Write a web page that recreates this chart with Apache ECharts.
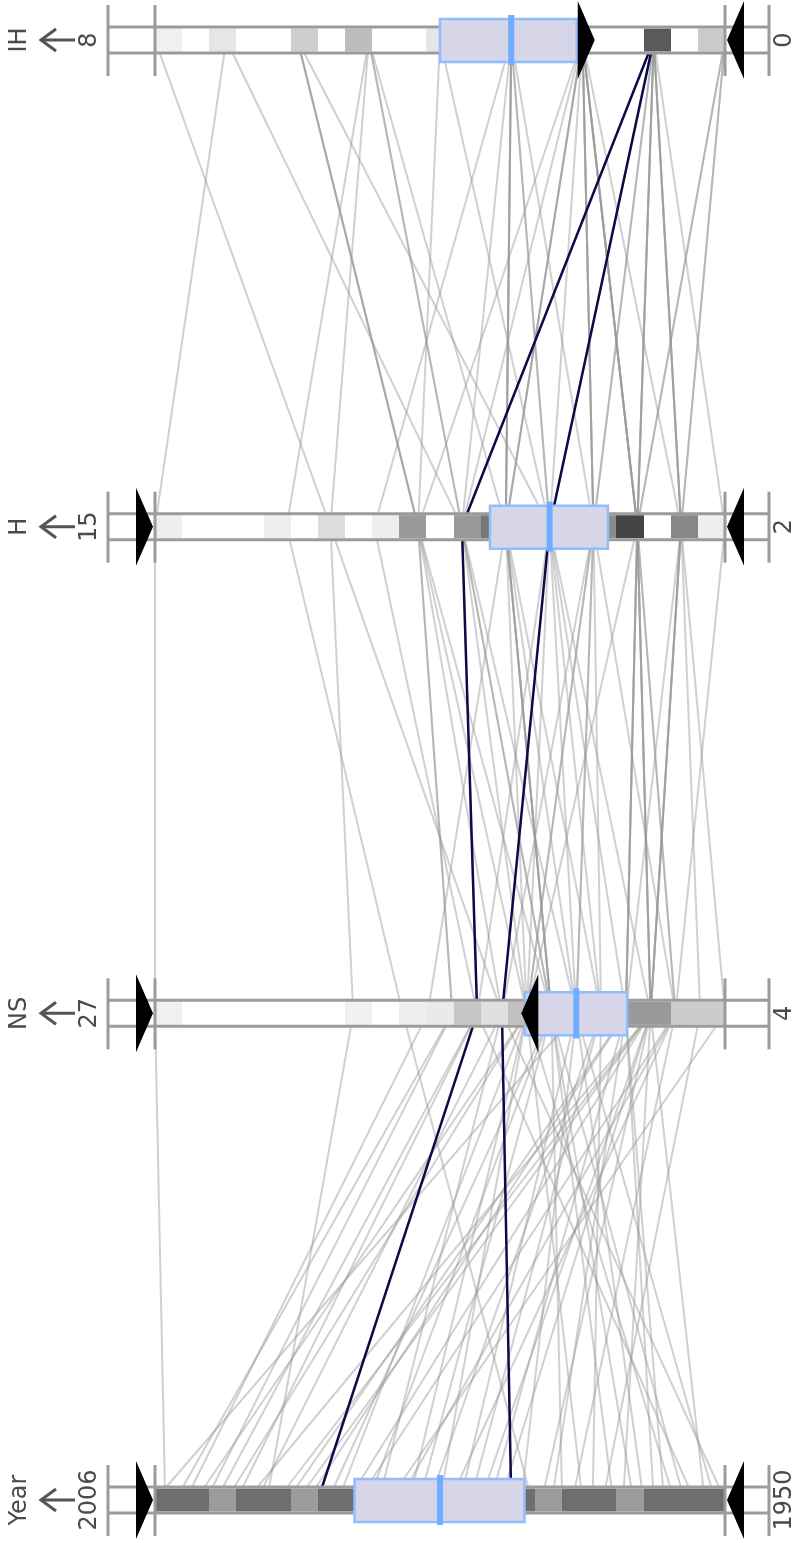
<!DOCTYPE html>
<html>
<head>
<meta charset="utf-8">
<title>Atlantic hurricane seasons 1950–2006</title>
<script src="https://cdn.jsdelivr.net/npm/echarts@6/dist/echarts.min.js"></script>
<style>
  html, body { margin: 0; padding: 0; background: #ffffff; }
  #chart { width: 796px; height: 1543px; }
</style>
</head>
<body>
<div id="chart"></div>
<script>
// ---- Season records: intense hurricanes, hurricanes, named storms per year ----
const years = [1950, 1951, 1952, 1953, 1954, 1955, 1956, 1957, 1958, 1959,
               1960, 1961, 1962, 1963, 1964, 1965, 1966, 1967, 1968, 1969,
               1970, 1971, 1972, 1973, 1974, 1975, 1976, 1977, 1978, 1979,
               1980, 1981, 1982, 1983, 1984, 1985, 1986, 1987, 1988, 1989,
               1990, 1991, 1992, 1993, 1994, 1995, 1996, 1997, 1998, 1999,
               2000, 2001, 2002, 2003, 2004, 2005, 2006];
const namedStorms = [13, 10, 7, 14, 11, 12, 8, 8, 10, 11,
                     7, 11, 5, 9, 12, 6, 11, 8, 7, 17,
                     10, 13, 7, 8, 7, 9, 10, 6, 12, 9,
                     11, 12, 6, 4, 13, 11, 6, 7, 12, 11,
                     14, 8, 7, 8, 7, 19, 13, 7, 14, 12,
                     14, 15, 12, 16, 15, 27, 10];
const hurricanes = [11, 8, 6, 6, 8, 9, 4, 3, 7, 7,
                    4, 8, 3, 7, 6, 4, 7, 6, 4, 12,
                    5, 6, 3, 4, 4, 6, 6, 5, 5, 5,
                    9, 7, 2, 3, 5, 7, 4, 3, 5, 7,
                    8, 4, 4, 4, 3, 11, 9, 3, 10, 8,
                    8, 9, 4, 7, 9, 15, 5];
const intenseHurricanes = [8, 5, 3, 4, 2, 6, 2, 2, 5, 2,
                           2, 7, 1, 2, 6, 1, 3, 1, 0, 5,
                           2, 1, 0, 1, 2, 3, 2, 1, 2, 2,
                           2, 3, 1, 1, 1, 3, 0, 1, 3, 2,
                           1, 2, 1, 1, 0, 5, 6, 1, 3, 5,
                           3, 4, 2, 3, 6, 7, 2];
const highlightYears = [1971, 1990];

// ---- Axes, top to bottom ----
const axisNames = ['IH', 'H', 'NS', 'Year'];
const axisMin = [0, 2, 4, 1950];
const axisMax = [8, 15, 27, 2006];

// Density strip under each axis: grey level per bin, from the max end to the min end
const shadeIH   = [240, 255, 230, 255, 255, 206, 255, 189, 255, 255, 230, 255, 255, 150, 255, 70, 255, 255, 90, 255, 203];
const shadeH    = [238, 255, 255, 255, 238, 255, 221, 255, 238, 154, 255, 153, 119, 255, 153, 255, 140, 68, 255, 136, 238];
const shadeNS   = [240, 255, 255, 255, 255, 255, 255, 240, 255, 238, 234, 198, 224, 192, 200, 180, 170, 153, 153, 204, 204];
const shadeYear = [110, 110, 156, 110, 110, 156, 110, 110, 156, 110, 110, 156, 110, 110, 156, 110, 110, 156, 110, 110, 110];

// Query box per axis: [low, high, centre]
const boxIH   = [2.08, 4.0, 3];
const boxH    = [4.67, 7.36, 6];
const boxNS   = [7.95, 12.07, 10];
const boxYear = [1969.7, 1986.4, 1978];

// Range slider handles: upper bound (▶) and lower bound (◀)
const upperHandle = [1.8, 15, 27, 2006];
const lowerHandle = [0, 2, 12.3, 1950];

// ---- Layout ----
const PLOT_LEFT = 155, PLOT_WIDTH = 570, PLOT_TOP = 40, PLOT_HEIGHT = 1460;
const rowCentre = axisNames.map((_, i) => PLOT_TOP + i * PLOT_HEIGHT / (axisNames.length - 1));

const shades = [shadeIH, shadeH, shadeNS, shadeYear];
const boxes = [boxIH, boxH, boxNS, boxYear];

const FRAME = '#9b9b9b';
const TEXT = '#4a4a4a';
const FONT = 'DejaVu Sans, Verdana, sans-serif';

// ---- Polyline records ----
const rows = years.map((y, i) => [intenseHurricanes[i], hurricanes[i], namedStorms[i], y]);
const plainRows = rows.filter(r => highlightYears.indexOf(r[3]) < 0);
const highlightRows = rows.filter(r => highlightYears.indexOf(r[3]) >= 0);

// ---- Renderers (custom series on each single axis) ----
function xOf(api, v) { return api.coord([v])[0]; }
function yOf(api, v) { return api.coord([v])[1]; }

function renderBackdrop(params, api) {
  const xl = xOf(api, api.value(0)), xr = xOf(api, api.value(1)), cy = yOf(api, api.value(0));
  return { type: 'rect', shape: { x: xl - 47, y: cy - 13, width: xr - xl + 91, height: 26 },
           style: { fill: '#ffffff' } };
}

function renderCell(params, api) {
  const a = xOf(api, api.value(0)), b = xOf(api, api.value(1)), cy = yOf(api, api.value(0));
  const g = Math.round(api.value(2));
  const x0 = Math.round(Math.min(a, b)), x1 = Math.round(Math.max(a, b));
  return { type: 'rect', shape: { x: x0, y: cy - 11.5, width: x1 - x0, height: 23 },
           style: { fill: 'rgb(' + g + ',' + g + ',' + g + ')' } };
}

function renderFrame(params, api) {
  const xl = xOf(api, api.value(0)), xr = xOf(api, api.value(1)), cy = yOf(api, api.value(0));
  const oL = xl - 47, oR = xr + 44;
  const hLine = y => ({ type: 'line', shape: { x1: oL, y1: y, x2: oR, y2: y }, style: { stroke: FRAME, lineWidth: 3 } });
  const vLine = x => ({ type: 'line', shape: { x1: x, y1: cy - 35, x2: x, y2: cy + 36 }, style: { stroke: FRAME, lineWidth: 3 } });
  return { type: 'group', children: [hLine(cy - 13), hLine(cy + 13), vLine(oL), vLine(xl), vLine(xr), vLine(oR)] };
}

function renderBox(params, api) {
  const a = xOf(api, api.value(0)), b = xOf(api, api.value(1)), m = xOf(api, api.value(2));
  const cy = yOf(api, api.value(0));
  const x0 = Math.min(a, b), x1 = Math.max(a, b);
  return { type: 'group', children: [
    { type: 'rect', shape: { x: x0, y: cy - 21, width: x1 - x0, height: 43 },
      style: { fill: '#d6d6e8', stroke: '#90bdff', lineWidth: 2.5 } },
    { type: 'rect', shape: { x: m - 3, y: cy - 25, width: 6, height: 50 },
      style: { fill: '#70acff' } }
  ] };
}

function renderHandle(params, api) {
  const x = xOf(api, api.value(0)), cy = yOf(api, api.value(0));
  const dir = api.value(1); // 1: points toward the min end, -1: points toward the max end
  const tip = x - 2 * dir;
  const base = tip - 17 * dir;
  return { type: 'polygon', shape: { points: [[tip, cy], [base, cy - 39], [base, cy + 39]] },
           style: { fill: '#000000' } };
}

function makeLabelRenderer(name) {
  return function (params, api) {
    const xl = xOf(api, api.value(0)), xr = xOf(api, api.value(1)), cy = yOf(api, api.value(0));
    const txt = (s, x) => ({ type: 'text', x: x, y: cy, rotation: Math.PI / 2,
      style: { text: s, fill: TEXT, fontSize: 24, fontFamily: FONT, align: 'center', verticalAlign: 'middle' } });
    const ax = xl - 114;
    return { type: 'group', children: [
      txt(name, xl - 135),
      { type: 'line', shape: { x1: ax, y1: cy, x2: xl - 80, y2: cy }, style: { stroke: '#555555', lineWidth: 3 } },
      { type: 'polyline', shape: { points: [[ax + 15, cy - 11], [ax, cy], [ax + 15, cy + 11]] },
        style: { stroke: '#555555', lineWidth: 3, fill: null } },
      txt(String(api.value(0)), xl - 65),
      txt(String(api.value(1)), xr + 60)
    ] };
  };
}

// ---- Components ----
// The parallel axes only position the polylines; their own line, ticks and labels stay invisible.
const hiddenAxisParts = {
  axisLine: { show: false }, axisTick: { show: false },
  axisLabel: { show: false, formatter: () => '', color: 'rgba(0,0,0,0)', fontSize: 1 },
  splitLine: { show: false }, splitArea: { show: false }
};

const singleAxes = axisNames.map((n, i) => Object.assign({
  type: 'value', orient: 'horizontal',
  left: PLOT_LEFT, width: PLOT_WIDTH, top: rowCentre[i] - 13, height: 26,
  min: axisMin[i], max: axisMax[i], inverse: true, silent: true
}, hiddenAxisParts));

const parallelAxes = axisNames.map((n, i) => Object.assign({
  dim: i, type: 'value', name: '', inverse: true, min: axisMin[i], max: axisMax[i]
}, hiddenAxisParts));

const series = [
  { type: 'parallel', parallelIndex: 0, z: 2, silent: true, smooth: false,
    lineStyle: { color: 'rgb(150,150,150)', width: 2, opacity: 0.45 }, data: plainRows },
  { type: 'parallel', parallelIndex: 0, z: 2, silent: true, smooth: false,
    lineStyle: { color: '#0b0b48', width: 2.5, opacity: 1 }, data: highlightRows }
];

axisNames.forEach((name, i) => {
  const lo = axisMin[i], hi = axisMax[i];
  const n = shades[i].length;
  const step = (hi - lo) / n;
  const common = { type: 'custom', coordinateSystem: 'singleAxis', singleAxisIndex: i, silent: true, animation: false };
  series.push(Object.assign({}, common, { z: 3, renderItem: renderBackdrop, data: [[hi, lo]] }));
  series.push(Object.assign({}, common, { z: 4, renderItem: renderCell,
    data: shades[i].map((g, k) => [hi - k * step, hi - (k + 1) * step, g]) }));
  series.push(Object.assign({}, common, { z: 5, renderItem: renderFrame, data: [[hi, lo]] }));
  series.push(Object.assign({}, common, { z: 6, renderItem: renderBox, data: [boxes[i]] }));
  series.push(Object.assign({}, common, { z: 7, renderItem: renderHandle,
    data: [[upperHandle[i], 1], [lowerHandle[i], -1]] }));
  series.push(Object.assign({}, common, { z: 8, renderItem: makeLabelRenderer(name), data: [[hi, lo]] }));
});

const chart = echarts.init(document.getElementById('chart'), null, { renderer: 'canvas' });
chart.setOption({
  animation: false,
  backgroundColor: '#ffffff',
  parallel: {
    left: PLOT_LEFT, top: PLOT_TOP, width: PLOT_WIDTH, height: PLOT_HEIGHT,
    layout: 'vertical',
    parallelAxisDefault: Object.assign({ type: 'value', name: '', inverse: true }, hiddenAxisParts)
  },
  parallelAxis: parallelAxes,
  singleAxis: singleAxes,
  series: series
});
</script>
</body>
</html>
